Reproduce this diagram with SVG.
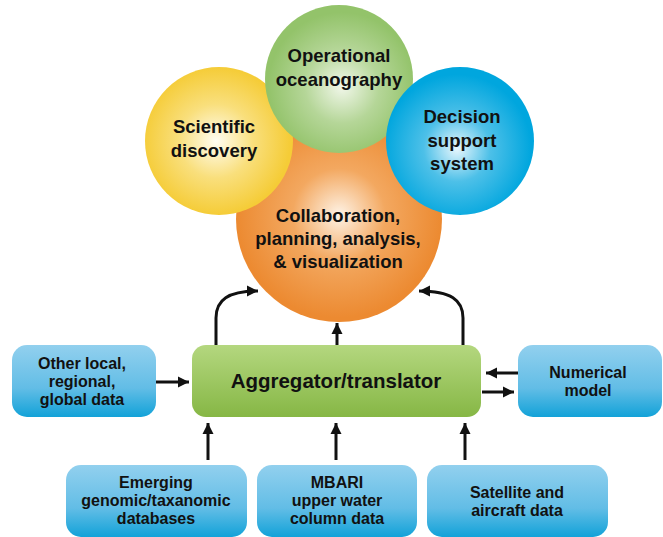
<svg xmlns="http://www.w3.org/2000/svg" width="663" height="537" viewBox="0 0 663 537">
<defs>
<radialGradient id="gOrange" cx="0.5" cy="0.48" r="0.5"><stop offset="0" stop-color="#FEF3E6"/><stop offset="0.45" stop-color="#F3A860"/><stop offset="1" stop-color="#EC8A31"/></radialGradient>
<radialGradient id="gYellow" cx="0.48" cy="0.5" r="0.5"><stop offset="0" stop-color="#FFFDF2"/><stop offset="0.5" stop-color="#F9DF7C"/><stop offset="1" stop-color="#F5CC37"/></radialGradient>
<radialGradient id="gGreen" cx="0.52" cy="0.55" r="0.5"><stop offset="0" stop-color="#F1F7EA"/><stop offset="0.5" stop-color="#B5D698"/><stop offset="1" stop-color="#93C36A"/></radialGradient>
<radialGradient id="gBlue" cx="0.48" cy="0.55" r="0.5"><stop offset="0" stop-color="#E9F7FD"/><stop offset="0.45" stop-color="#4DC0E8"/><stop offset="1" stop-color="#00A6DE"/></radialGradient>
<linearGradient id="gAgg" x1="0" y1="0" x2="0" y2="1"><stop offset="0" stop-color="#B4D77F"/><stop offset="1" stop-color="#86B745"/></linearGradient>
<linearGradient id="gBox" x1="0" y1="0" x2="0" y2="1"><stop offset="0" stop-color="#92D0EE"/><stop offset="0.6" stop-color="#62BDE6"/><stop offset="1" stop-color="#12A2D8"/></linearGradient>
<marker id="ah" markerUnits="userSpaceOnUse" markerWidth="12" markerHeight="12" refX="11" refY="6" orient="auto"><path d="M0,0.5 L11,6 L0,11.5 Z" fill="#111"/></marker>
</defs>
<style>
text{font-family:"Liberation Sans",Arial,sans-serif;font-weight:700;fill:#111;text-anchor:middle}
.c{font-size:18.5px}
.b{font-size:16px}
.a{font-size:20.5px}
.box{fill:url(#gBox)}
.conn{fill:none;stroke:#111;stroke-width:3;marker-end:url(#ah)}
</style>
<g id="collab"><circle cx="339" cy="219" r="103" fill="url(#gOrange)"/>
<text class="c" x="338" y="222">Collaboration,</text><text class="c" x="338" y="245">planning, analysis,</text><text class="c" x="338" y="268">&amp; visualization</text></g>
<g id="scientific"><circle cx="219" cy="141" r="74" fill="url(#gYellow)"/>
<text class="c" x="214" y="133">Scientific</text><text class="c" x="214" y="157">discovery</text></g>
<g id="operational"><circle cx="339" cy="79" r="74" fill="url(#gGreen)"/>
<text class="c" x="339" y="62">Operational</text><text class="c" x="339" y="86">oceanography</text></g>
<g id="decision"><circle cx="460" cy="141" r="74" fill="url(#gBlue)"/>
<text class="c" x="462" y="123">Decision</text><text class="c" x="462" y="147">support</text><text class="c" x="462" y="170">system</text></g>
<g id="aggregator"><rect x="192" y="345" width="289" height="72" rx="14" fill="url(#gAgg)"/>
<text class="a" x="336" y="388">Aggregator/translator</text></g>
<g id="other"><rect class="box" x="12" y="345" width="144" height="72" rx="15"/>
<text class="b" x="82" y="369">Other local,</text><text class="b" x="82" y="387">regional,</text><text class="b" x="82" y="405">global data</text></g>
<g id="numerical"><rect class="box" x="518" y="345" width="144" height="72" rx="15"/>
<text class="b" x="588" y="378">Numerical</text><text class="b" x="588" y="396">model</text></g>
<g id="emerging"><rect class="box" x="66" y="465" width="181" height="72" rx="15"/>
<text class="b" x="156" y="488">Emerging</text><text class="b" x="156" y="506">genomic/taxanomic</text><text class="b" x="156" y="524">databases</text></g>
<g id="mbari"><rect class="box" x="257" y="465" width="160" height="72" rx="15"/>
<text class="b" x="337" y="488">MBARI</text><text class="b" x="337" y="506">upper water</text><text class="b" x="337" y="524">column data</text></g>
<g id="satellite"><rect class="box" x="427" y="465" width="181" height="72" rx="15"/>
<text class="b" x="517" y="498">Satellite and</text><text class="b" x="517" y="516">aircraft data</text></g>
<g id="connectors">
<path class="conn" d="M216,345 V318 C216,300 228,291 258,291"/>
<path class="conn" d="M463,345 V318 C463,300 451,291 419,291"/>
<path class="conn" d="M337,345 V323"/>
<path class="conn" d="M156,382 H189"/>
<path class="conn" d="M518,373 H486"/>
<path class="conn" d="M482,392 H514"/>
<path class="conn" d="M208,460 V423"/>
<path class="conn" d="M336,460 V423"/>
<path class="conn" d="M465,460 V423"/>
</g>
</svg>
